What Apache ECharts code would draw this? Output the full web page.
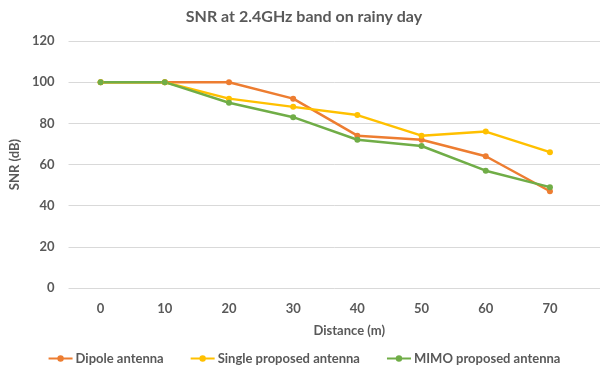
<!DOCTYPE html>
<html>
<head>
<meta charset="utf-8">
<script src="https://cdn.jsdelivr.net/npm/echarts@6/dist/echarts.min.js"></script>
<style>
  html, body { margin: 0; padding: 0; background: #fff; }
  #chart { width: 608px; height: 373px; }
</style>
</head>
<body>
<div id="chart"></div>
<script>
// Distance from the access point (m)
const distances = [0, 10, 20, 30, 40, 50, 60, 70];
// SNR (dB) measured for each antenna
const dipole = [100, 100, 100, 92, 74, 72, 64, 47];
const singleProposed = [100, 100, 92, 88, 84, 74, 76, 66];
const mimoProposed = [100, 100, 90, 83, 72, 69, 57, 49];
const yTicks = [0, 20, 40, 60, 80, 100, 120];

const FONT = 'Lato, "Open Sans", sans-serif';
const TEXT = '#595959';

function pairs(values) {
  return distances.map((d, i) => [d, values[i]]);
}

function lineSeries(name, values, color) {
  return {
    name: name,
    type: 'line',
    data: pairs(values),
    symbol: 'circle',
    symbolSize: 6,
    lineStyle: { color: color, width: 2.5 },
    itemStyle: { color: color },
    emphasis: { disabled: true }
  };
}

const chart = echarts.init(document.getElementById('chart'), null, { renderer: 'canvas' });
chart.setOption({
  animation: false,
  backgroundColor: '#fff',
  title: {
    text: 'SNR at 2.4GHz band on rainy day',
    left: 'center',
    top: 4,
    textStyle: { fontFamily: FONT, fontSize: 16, fontWeight: 'bold', color: TEXT }
  },
  legend: {
    bottom: 3,
    left: 'center',
    itemGap: 26,
    itemWidth: 24,
    itemHeight: 8,
    textStyle: { fontFamily: FONT, fontSize: 13, fontWeight: 'bold', color: TEXT, padding: [0, 0, 0, -2] },
    data: ['Dipole antenna', 'Single proposed antenna', 'MIMO proposed antenna']
  },
  grid: { left: 66, right: 8, top: 41, bottom: 85, containLabel: false },
  xAxis: {
    type: 'value',
    min: -5,
    max: 77.8,
    name: 'Distance (m)',
    nameLocation: 'middle',
    nameGap: 36,
    nameTextStyle: { fontFamily: FONT, fontSize: 13, fontWeight: 'bold', color: TEXT, padding: [0, 0, 0, 30] },
    axisLine: { show: false },
    axisTick: { show: false },
    splitLine: { show: false },
    axisLabel: {
      customValues: distances,
      margin: 14,
      fontFamily: FONT, fontSize: 13, fontWeight: 'bold', color: TEXT
    }
  },
  yAxis: {
    type: 'value',
    min: 0,
    max: 120,
    interval: 20,
    name: 'SNR (dB)',
    nameLocation: 'middle',
    nameGap: 38,
    nameRotate: 90,
    nameTextStyle: { fontFamily: FONT, fontSize: 13, fontWeight: 'bold', color: TEXT },
    axisLine: { show: false },
    axisTick: { show: false },
    splitLine: { lineStyle: { color: '#d9d9d9', width: 1 } },
    axisLabel: {
      customValues: yTicks,
      margin: 14,
      fontFamily: FONT, fontSize: 13, fontWeight: 'bold', color: TEXT
    }
  },
  series: [
    lineSeries('Dipole antenna', dipole, '#ED7D31'),
    lineSeries('Single proposed antenna', singleProposed, '#FFC000'),
    lineSeries('MIMO proposed antenna', mimoProposed, '#70AD47')
  ]
});
</script>
</body>
</html>
